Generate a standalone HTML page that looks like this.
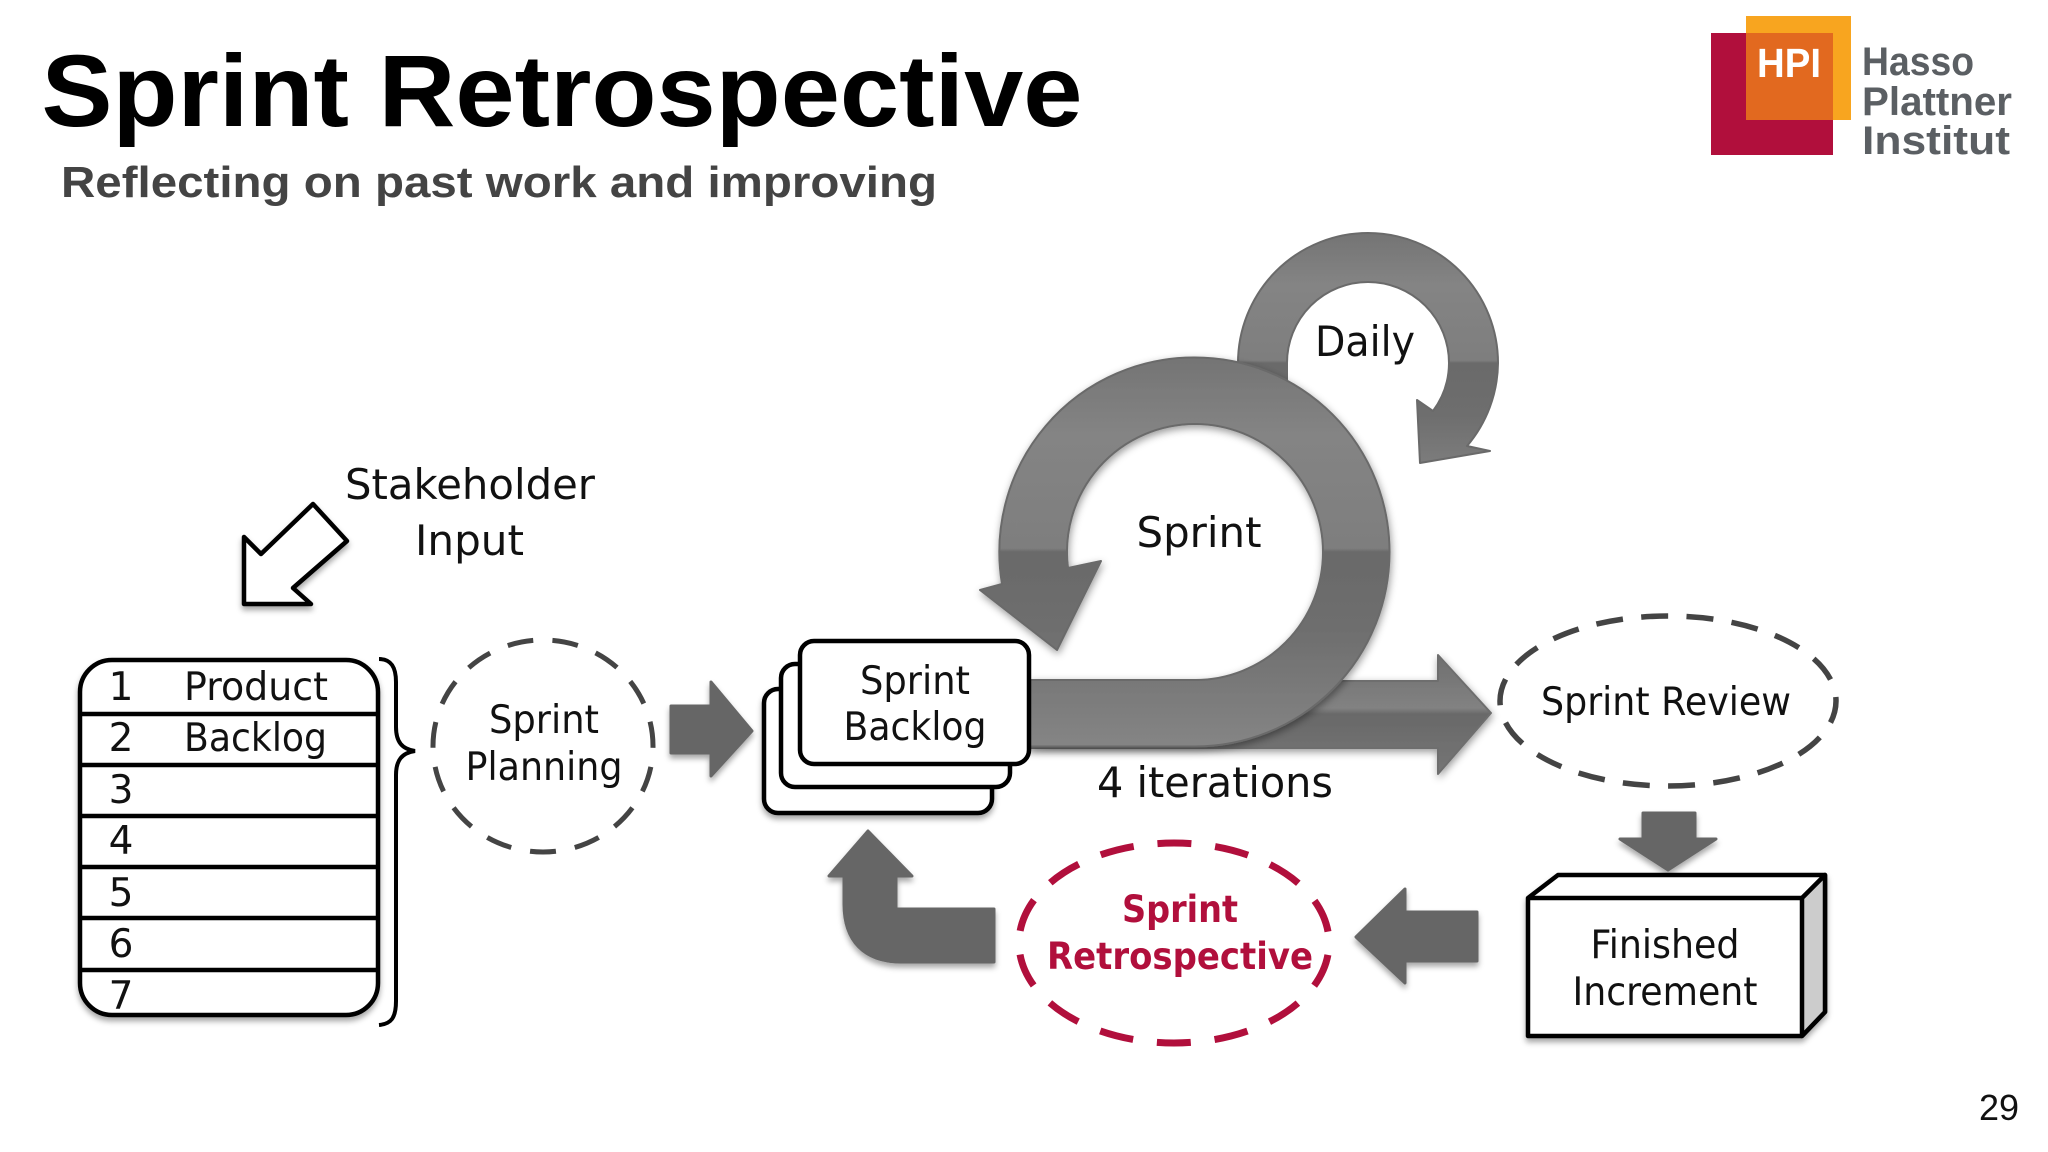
<!DOCTYPE html>
<html><head><meta charset="utf-8"><style>
html,body{margin:0;padding:0;background:#fff;width:2048px;height:1152px;overflow:hidden}
svg{display:block}
text{font-family:"DejaVu Sans","Liberation Sans",sans-serif;fill:#111;font-size:39px}
.c{text-anchor:middle}
.t{font-family:"Liberation Sans",sans-serif;font-weight:bold}
.l{font-family:"Liberation Sans",sans-serif;fill:#5b5f63;font-size:40px;font-weight:bold}
</style></head><body>
<svg width="2048" height="1152" viewBox="0 0 2048 1152" xmlns="http://www.w3.org/2000/svg">
<defs>
<filter id="s" x="-20%" y="-20%" width="140%" height="140%"><feDropShadow dx="0" dy="4" stdDeviation="3" flood-color="#000" flood-opacity=".35"/></filter>
<filter id="s2" x="-20%" y="-20%" width="140%" height="140%"><feDropShadow dx="1" dy="3" stdDeviation="4" flood-color="#000" flood-opacity=".4"/></filter>
<linearGradient id="gs" gradientUnits="userSpaceOnUse" x1="0" y1="357" x2="0" y2="747">
<stop offset="0" stop-color="#747474"/><stop offset=".2" stop-color="#848484"/><stop offset=".49" stop-color="#7e7e7e"/><stop offset=".5" stop-color="#6a6a6a"/><stop offset=".7" stop-color="#6e6e6e"/><stop offset="1" stop-color="#858585"/>
</linearGradient>
<linearGradient id="gd" gradientUnits="userSpaceOnUse" x1="0" y1="233" x2="0" y2="493">
<stop offset="0" stop-color="#747474"/><stop offset=".2" stop-color="#848484"/><stop offset=".49" stop-color="#7e7e7e"/><stop offset=".5" stop-color="#6a6a6a"/><stop offset=".7" stop-color="#6e6e6e"/><stop offset="1" stop-color="#858585"/>
</linearGradient>
<linearGradient id="ga" gradientUnits="userSpaceOnUse" x1="0" y1="654" x2="0" y2="774">
<stop offset="0" stop-color="#6e6e6e"/><stop offset=".45" stop-color="#828282"/><stop offset=".5" stop-color="#696969"/><stop offset="1" stop-color="#757575"/>
</linearGradient>
</defs>
<rect width="2048" height="1152" fill="#fff"/>

<text class="t" x="41.5" y="126" style="font-size:102px;fill:#000" textLength="1041" lengthAdjust="spacingAndGlyphs">Sprint Retrospective</text>
<text class="t" x="61" y="197" style="font-size:44px;fill:#444" textLength="876" lengthAdjust="spacingAndGlyphs">Reflecting on past work and improving</text>

<rect x="1711" y="33" width="122" height="122" fill="#b10f3c"/>
<rect x="1746" y="16" width="105" height="104" fill="#f8a51f"/>
<rect x="1746" y="33" width="87" height="87" fill="#e2691f"/>
<text class="t" x="1757" y="77" style="font-size:41px;fill:#fff" textLength="64" lengthAdjust="spacingAndGlyphs">HPI</text>
<text class="l" x="1862" y="75" textLength="112" lengthAdjust="spacingAndGlyphs">Hasso</text>
<text class="l" x="1862" y="115" textLength="150" lengthAdjust="spacingAndGlyphs">Plattner</text>
<text class="l" x="1862" y="154" textLength="148" lengthAdjust="spacingAndGlyphs">Institut</text>

<!-- Stakeholder -->
<path d="M313 504 L347 541 L293 588 L311 604 L244 604 L244 537 L261 554 Z" fill="#fff" stroke="#000" stroke-width="4.5" stroke-linejoin="round" filter="url(#s)"/>
<text x="345" y="499" style="font-size:42px" textLength="250" lengthAdjust="spacingAndGlyphs">Stakeholder</text>
<text x="415" y="555" style="font-size:42px" textLength="109" lengthAdjust="spacingAndGlyphs">Input</text>

<!-- Backlog table -->
<rect x="80" y="660" width="298" height="355" rx="32" fill="#fff" stroke="#000" stroke-width="4.5" filter="url(#s)"/>
<g stroke="#000" stroke-width="4.5">
<path d="M80 714H378M80 765H378M80 816H378M80 867H378M80 918H378M80 970H378"/>
</g>
<text class="c" x="121" y="700">1</text><text class="c" x="121" y="751">2</text><text class="c" x="121" y="803">3</text><text class="c" x="121" y="854">4</text><text class="c" x="121" y="906">5</text><text class="c" x="121" y="957">6</text><text class="c" x="121" y="1009">7</text>
<text x="184" y="700" textLength="144" lengthAdjust="spacingAndGlyphs">Product</text>
<text x="184" y="751" textLength="143" lengthAdjust="spacingAndGlyphs">Backlog</text>
<path d="M379 659 C391 659 396 667 396 682 L396 727 C396 742 402 749 415 751 C402 753 396 760 396 775 L396 1001 C396 1018 391 1024 379 1025" fill="none" stroke="#000" stroke-width="4"/>

<!-- Planning -->
<ellipse cx="543" cy="746" rx="110" ry="106" fill="none" stroke="#444" stroke-width="5" stroke-dasharray="26 19.2" stroke-dashoffset="-21"/>
<text class="c" x="544" y="733" textLength="110" lengthAdjust="spacingAndGlyphs">Sprint</text>
<text class="c" x="544" y="780" textLength="157" lengthAdjust="spacingAndGlyphs">Planning</text>
<path d="M671 706H711V682L752 731L711 776V753H671Z" fill="#666" stroke="#666" stroke-width="3" stroke-linejoin="round" filter="url(#s)"/>

<!-- Sprint arrow stack -->
<path d="M1300 681H1438V655L1491 713L1438 774V748H1020Z" fill="url(#ga)" stroke="#6e6e6e" stroke-width="2" stroke-linejoin="round" filter="url(#s2)"/>
<path d="M1238 380 L1238 363 A130 130 0 0 1 1368 233 A130 130 0 0 1 1498 363 A130 130 0 0 1 1467 446 L1490 451 L1420 463 L1417 400 L1433 411 A81 81 0 0 0 1449 363 A81 81 0 0 0 1368 282 A81 81 0 0 0 1287 363 L1287 400 Z" fill="url(#gd)" stroke="#6a6a6a" stroke-width="2" stroke-linejoin="round"/>
<path d="M1030 680 L1195 680 A128 128 0 0 0 1323 552 A128 128 0 0 0 1195 424 A128 128 0 0 0 1068 568 L1101 561 L1057 650 L980 590 L1002 584 A194.5 194.5 0 0 1 1195 357.5 A194.5 194.5 0 0 1 1389.5 552 A194.5 194.5 0 0 1 1195 746.5 L1030 746.5 Z" fill="url(#gs)" stroke="#6a6a6a" stroke-width="2" stroke-linejoin="round" filter="url(#s2)"/>
<text class="c" x="1199" y="547" style="font-size:42px" textLength="125" lengthAdjust="spacingAndGlyphs">Sprint</text>
<text class="c" x="1365" y="356" style="font-size:42px" textLength="100" lengthAdjust="spacingAndGlyphs">Daily</text>
<text class="c" x="1215" y="797" style="font-size:42px" textLength="236" lengthAdjust="spacingAndGlyphs">4 iterations</text>

<!-- Sprint backlog -->
<rect x="764" y="689" width="228" height="124" rx="14" fill="#fff" stroke="#000" stroke-width="4.5" filter="url(#s)"/>
<rect x="781" y="664" width="229" height="123" rx="14" fill="#fff" stroke="#000" stroke-width="4.5"/>
<rect x="800" y="641" width="229" height="123" rx="14" fill="#fff" stroke="#000" stroke-width="4.5"/>
<text class="c" x="915" y="694" textLength="110" lengthAdjust="spacingAndGlyphs">Sprint</text>
<text class="c" x="915" y="740" textLength="143" lengthAdjust="spacingAndGlyphs">Backlog</text>

<!-- Review -->
<ellipse cx="1668" cy="701" rx="168" ry="85" fill="none" stroke="#444" stroke-width="5.5" stroke-dasharray="27 18.36" stroke-dashoffset="4.5"/>
<text class="c" x="1666" y="715" textLength="250" lengthAdjust="spacingAndGlyphs">Sprint Review</text>
<path d="M1643 813H1695V839H1716L1668 870L1620 839H1643Z" fill="#666" stroke="#666" stroke-width="3" stroke-linejoin="round" filter="url(#s)"/>

<!-- Finished box -->
<path d="M1528 898 L1558 875 H1825 V1012 L1802 1036 H1528 Z" fill="#fff" stroke="#000" stroke-width="4.5" stroke-linejoin="round" filter="url(#s)"/>
<path d="M1802 898 L1825 875 V1012 L1802 1036 Z" fill="#cccccc" stroke="#000" stroke-width="4.5" stroke-linejoin="round"/>
<path d="M1528 898 H1802" stroke="#000" stroke-width="4.5"/>
<text class="c" x="1665" y="958" textLength="149" lengthAdjust="spacingAndGlyphs">Finished</text>
<text class="c" x="1665" y="1005" textLength="185" lengthAdjust="spacingAndGlyphs">Increment</text>

<!-- Left arrow -->
<path d="M1477 912H1405V889L1356 937L1405 983V961H1477Z" fill="#666" stroke="#666" stroke-width="3" stroke-linejoin="round" filter="url(#s)"/>

<!-- Retro -->
<ellipse cx="1174" cy="943" rx="155" ry="100" fill="none" stroke="#b10f3c" stroke-width="7" stroke-dasharray="34 23.9" stroke-dashoffset="-12"/>
<text class="c" x="1180" y="922" style="fill:#b10f3c;font-weight:bold;font-size:37px" textLength="116" lengthAdjust="spacingAndGlyphs">Sprint</text>
<text class="c" x="1180" y="969" style="fill:#b10f3c;font-weight:bold;font-size:37px" textLength="266" lengthAdjust="spacingAndGlyphs">Retrospective</text>

<!-- U-turn -->
<path d="M994 909 H896 V876 H912 L868 831 L829 876 H844 V904 C844 941 864 962 901 962 H994 Z" fill="#666" stroke="#666" stroke-width="3" stroke-linejoin="round" filter="url(#s)"/>

<text x="1979" y="1120" style="font-family:'Liberation Sans',sans-serif;font-size:36px;fill:#111">29</text>
</svg>
</body></html>
